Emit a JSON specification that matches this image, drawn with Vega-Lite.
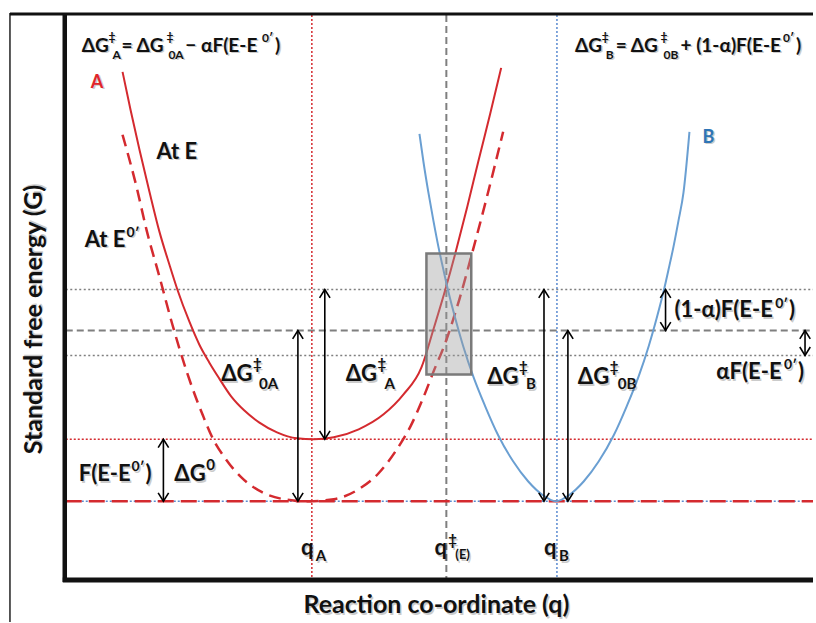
{
  "$schema": "https://vega.github.io/schema/vega-lite/v6.json",
  "width": 816,
  "height": 623,
  "autosize": {"type": "fit", "contains": "padding"},
  "padding": 0,
  "background": "white",
  "config": {"view": {"stroke": null}},
  "datasets": {
    "frame": [
      {"part": "outer", "q": 10, "q2": 10, "g": 489, "g2": -121},
      {"part": "top", "q": 10, "q2": 816, "g": 488, "g2": 488},
      {"part": "left", "q": 65, "q2": 65, "g": 489, "g2": -81},
      {"part": "bottom", "q": 63, "q2": 816, "g": -79, "g2": -79}
    ],
    "guides": [
      {"style": "grayDot", "q": 66, "q2": 816, "g": 212, "g2": 212},
      {"style": "grayDot", "q": 66, "q2": 816, "g": 146, "g2": 146},
      {"style": "grayDash", "q": 66, "q2": 816, "g": 171, "g2": 171},
      {"style": "redDot", "q": 66, "q2": 816, "g": 62, "g2": 62},
      {"style": "blueDot", "q": 66, "q2": 816, "g": 0, "g2": 0},
      {"style": "redDash", "q": 66, "q2": 816, "g": 0, "g2": 0},
      {"style": "redDot", "q": 313, "q2": 313, "g": 487, "g2": -77},
      {"style": "grayDash", "q": 448, "q2": 448, "g": 487, "g2": -77},
      {"style": "blueDot", "q": 559, "q2": 559, "g": 487, "g2": -77}
    ],
    "curves": [
      {"curve": "A at E", "q": 123, "g": 430}, {"curve": "A at E", "q": 131, "g": 392},
      {"curve": "A at E", "q": 140, "g": 352}, {"curve": "A at E", "q": 150, "g": 310},
      {"curve": "A at E", "q": 160, "g": 270}, {"curve": "A at E", "q": 170, "g": 237},
      {"curve": "A at E", "q": 178, "g": 212}, {"curve": "A at E", "q": 190, "g": 180},
      {"curve": "A at E", "q": 200, "g": 157}, {"curve": "A at E", "q": 210, "g": 139},
      {"curve": "A at E", "q": 220, "g": 123}, {"curve": "A at E", "q": 232, "g": 105},
      {"curve": "A at E", "q": 245, "g": 91}, {"curve": "A at E", "q": 260, "g": 79},
      {"curve": "A at E", "q": 278, "g": 69}, {"curve": "A at E", "q": 298, "g": 63},
      {"curve": "A at E", "q": 315, "g": 62}, {"curve": "A at E", "q": 335, "g": 64},
      {"curve": "A at E", "q": 360, "g": 72}, {"curve": "A at E", "q": 385, "g": 87},
      {"curve": "A at E", "q": 405, "g": 107}, {"curve": "A at E", "q": 423, "g": 134},
      {"curve": "A at E", "q": 435, "g": 172}, {"curve": "A at E", "q": 447, "g": 212},
      {"curve": "A at E", "q": 458, "g": 252}, {"curve": "A at E", "q": 469, "g": 295},
      {"curve": "A at E", "q": 480, "g": 340}, {"curve": "A at E", "q": 492, "g": 388},
      {"curve": "A at E", "q": 503, "g": 434},
      {"curve": "A at E0", "q": 123, "g": 367}, {"curve": "A at E0", "q": 137, "g": 315},
      {"curve": "A at E0", "q": 147, "g": 272}, {"curve": "A at E0", "q": 160, "g": 225},
      {"curve": "A at E0", "q": 173, "g": 177}, {"curve": "A at E0", "q": 188, "g": 128},
      {"curve": "A at E0", "q": 204, "g": 85}, {"curve": "A at E0", "q": 214, "g": 62},
      {"curve": "A at E0", "q": 226, "g": 43}, {"curve": "A at E0", "q": 242, "g": 24},
      {"curve": "A at E0", "q": 263, "g": 9}, {"curve": "A at E0", "q": 285, "g": 2},
      {"curve": "A at E0", "q": 310, "g": 0}, {"curve": "A at E0", "q": 335, "g": 2},
      {"curve": "A at E0", "q": 360, "g": 12}, {"curve": "A at E0", "q": 380, "g": 28},
      {"curve": "A at E0", "q": 397, "g": 50}, {"curve": "A at E0", "q": 412, "g": 75},
      {"curve": "A at E0", "q": 425, "g": 104}, {"curve": "A at E0", "q": 436, "g": 132},
      {"curve": "A at E0", "q": 446, "g": 156}, {"curve": "A at E0", "q": 461, "g": 202},
      {"curve": "A at E0", "q": 474, "g": 249}, {"curve": "A at E0", "q": 488, "g": 302},
      {"curve": "A at E0", "q": 505, "g": 370},
      {"curve": "B", "q": 421, "g": 368}, {"curve": "B", "q": 425, "g": 340},
      {"curve": "B", "q": 430, "g": 309}, {"curve": "B", "q": 435, "g": 281},
      {"curve": "B", "q": 440, "g": 255}, {"curve": "B", "q": 445, "g": 232},
      {"curve": "B", "q": 450, "g": 210}, {"curve": "B", "q": 457, "g": 183},
      {"curve": "B", "q": 465, "g": 155}, {"curve": "B", "q": 475, "g": 125},
      {"curve": "B", "q": 487, "g": 95}, {"curve": "B", "q": 500, "g": 66},
      {"curve": "B", "q": 515, "g": 40}, {"curve": "B", "q": 530, "g": 20},
      {"curve": "B", "q": 545, "g": 6}, {"curve": "B", "q": 558, "g": 0},
      {"curve": "B", "q": 571, "g": 6}, {"curve": "B", "q": 586, "g": 20},
      {"curve": "B", "q": 601, "g": 40}, {"curve": "B", "q": 616, "g": 66},
      {"curve": "B", "q": 629, "g": 95}, {"curve": "B", "q": 641, "g": 125},
      {"curve": "B", "q": 651, "g": 155}, {"curve": "B", "q": 659, "g": 183},
      {"curve": "B", "q": 666, "g": 210}, {"curve": "B", "q": 671, "g": 232},
      {"curve": "B", "q": 676, "g": 255}, {"curve": "B", "q": 681, "g": 281},
      {"curve": "B", "q": 686, "g": 309}, {"curve": "B", "q": 692, "g": 370}
    ],
    "arrows": [
      {"name": "F(E-E0')", "q": 164, "g": 0, "g2": 62},
      {"name": "dG0A", "q": 299, "g": 0, "g2": 171},
      {"name": "dGA", "q": 326, "g": 62, "g2": 212},
      {"name": "dGB", "q": 546, "g": 0, "g2": 212},
      {"name": "dG0B", "q": 570, "g": 0, "g2": 171},
      {"name": "(1-a)F", "q": 668, "g": 171, "g2": 212},
      {"name": "aF", "q": 808, "g": 146, "g2": 171}
    ],
    "box": [{"q": 428, "q2": 473, "g": 248, "g2": 127}],
    "texts": [
      {"t": "ΔG", "q": 82, "g": 450, "role": "eq"},
      {"t": "‡", "q": 109, "g": 461, "role": "eqS"},
      {"t": "A", "q": 113, "g": 443, "role": "eqS"},
      {"t": "= ΔG", "q": 122, "g": 450, "role": "eq"},
      {"t": "‡", "q": 167, "g": 461, "role": "eqS"},
      {"t": "0A", "q": 169, "g": 443, "role": "eqS"},
      {"t": "− αF(E-E", "q": 186, "g": 450, "role": "eq"},
      {"t": "0′", "q": 263, "g": 460, "role": "eqS"},
      {"t": ")", "q": 276, "g": 450, "role": "eq"},
      {"t": "ΔG", "q": 577, "g": 450, "role": "eq"},
      {"t": "‡", "q": 604, "g": 461, "role": "eqS"},
      {"t": "B", "q": 608, "g": 443, "role": "eqS"},
      {"t": "= ΔG", "q": 618, "g": 450, "role": "eq"},
      {"t": "‡", "q": 663, "g": 461, "role": "eqS"},
      {"t": "0B", "q": 666, "g": 443, "role": "eqS"},
      {"t": "+ (1-α)F(E-E", "q": 683, "g": 450, "role": "eq"},
      {"t": "0′", "q": 786, "g": 460, "role": "eqS"},
      {"t": ")", "q": 799, "g": 450, "role": "eq"},
      {"t": "ΔG", "q": 222, "g": 120, "role": "lbl"},
      {"t": "‡", "q": 254, "g": 132, "role": "lblS"},
      {"t": "0A", "q": 260, "g": 112, "role": "lblS"},
      {"t": "ΔG", "q": 347, "g": 120, "role": "lbl"},
      {"t": "‡", "q": 379, "g": 132, "role": "lblS"},
      {"t": "A", "q": 386, "g": 112, "role": "lblS"},
      {"t": "ΔG", "q": 489, "g": 117, "role": "lbl"},
      {"t": "‡", "q": 521, "g": 129, "role": "lblS"},
      {"t": "B", "q": 528, "g": 112, "role": "lblS"},
      {"t": "ΔG", "q": 580, "g": 117, "role": "lbl"},
      {"t": "‡", "q": 612, "g": 129, "role": "lblS"},
      {"t": "0B", "q": 620, "g": 112, "role": "lblS"},
      {"t": "ΔG", "q": 175, "g": 20, "role": "lbl"},
      {"t": "0", "q": 207, "g": 31, "role": "lblS"},
      {"t": "q", "q": 302, "g": -54, "role": "lbl"},
      {"t": "A", "q": 317, "g": -60, "role": "lblS"},
      {"t": "q", "q": 436, "g": -54, "role": "lbl"},
      {"t": "‡", "q": 450, "g": -44, "role": "lblS"},
      {"t": "(E)", "q": 457, "g": -58, "role": "tiny"},
      {"t": "q", "q": 546, "g": -54, "role": "lbl"},
      {"t": "B", "q": 561, "g": -60, "role": "lblS"},
      {"t": "F(E-E", "q": 79, "g": 20, "role": "mid"},
      {"t": "0′", "q": 132, "g": 30, "role": "midS"},
      {"t": ")", "q": 146, "g": 20, "role": "mid"},
      {"t": "(1-α)F(E-E", "q": 677, "g": 184, "role": "mid"},
      {"t": "0′", "q": 778, "g": 194, "role": "midS"},
      {"t": ")", "q": 792, "g": 184, "role": "mid"},
      {"t": "αF(E-E", "q": 719, "g": 122, "role": "mid"},
      {"t": "0′", "q": 787, "g": 132, "role": "midS"},
      {"t": ")", "q": 801, "g": 122, "role": "mid"},
      {"t": "At E", "q": 157, "g": 343, "role": "mid"},
      {"t": "At E", "q": 85, "g": 255, "role": "mid"},
      {"t": "0′", "q": 127, "g": 265, "role": "midS"}
    ],
    "names": [
      {"t": "A", "q": 91, "g": 414},
      {"t": "B", "q": 705, "g": 359}
    ],
    "xtitle": [{"t": "Reaction co-ordinate (q)", "q": 438, "g": -112}],
    "ytitle": [{"t": "Standard free energy (G)", "q": 34, "g": 182}]
  },
  "encoding": {
    "x": {"field": "q", "type": "quantitative", "scale": {"domain": [0, 816], "nice": false, "zero": false}, "axis": null},
    "y": {"field": "g", "type": "quantitative", "scale": {"domain": [-121, 502], "nice": false, "zero": false}, "axis": null}
  },
  "layer": [
    {
      "data": {"name": "guides"},
      "transform": [{"filter": "datum.style == 'grayDot'"}],
      "mark": {"type": "rule", "color": "#7f7f7f", "strokeWidth": 1.5, "strokeDash": [2, 2.5]},
      "encoding": {"x2": {"field": "q2"}, "y2": {"field": "g2"}}
    },
    {
      "data": {"name": "guides"},
      "transform": [{"filter": "datum.style == 'grayDash'"}],
      "mark": {"type": "rule", "color": "#7f7f7f", "strokeWidth": 2, "strokeDash": [7, 4]},
      "encoding": {"x2": {"field": "q2"}, "y2": {"field": "g2"}}
    },
    {
      "data": {"name": "guides"},
      "transform": [{"filter": "datum.style == 'redDot'"}],
      "mark": {"type": "rule", "color": "#d42a2f", "strokeWidth": 1.5, "strokeDash": [2, 2]},
      "encoding": {"x2": {"field": "q2"}, "y2": {"field": "g2"}}
    },
    {
      "data": {"name": "guides"},
      "transform": [{"filter": "datum.style == 'blueDot'"}],
      "mark": {"type": "rule", "color": "#5b8bd0", "strokeWidth": 1.5, "strokeDash": [2, 2]},
      "encoding": {"x2": {"field": "q2"}, "y2": {"field": "g2"}}
    },
    {
      "data": {"name": "guides"},
      "transform": [{"filter": "datum.style == 'redDash'"}],
      "mark": {"type": "rule", "color": "#d42a2f", "strokeWidth": 2.5, "strokeDash": [16, 7]},
      "encoding": {"x2": {"field": "q2"}, "y2": {"field": "g2"}}
    },
    {
      "data": {"name": "curves"},
      "transform": [{"filter": "datum.curve == 'A at E'"}],
      "mark": {"type": "line", "interpolate": "monotone", "strokeWidth": 2, "color": "#d42a2f"}
    },
    {
      "data": {"name": "curves"},
      "transform": [{"filter": "datum.curve == 'A at E0'"}],
      "mark": {"type": "line", "interpolate": "monotone", "strokeWidth": 2.5, "color": "#d42a2f", "strokeDash": [12, 7]}
    },
    {
      "data": {"name": "curves"},
      "transform": [{"filter": "datum.curve == 'B'"}],
      "mark": {"type": "line", "interpolate": "monotone", "strokeWidth": 2, "color": "#6a9fd2"}
    },
    {
      "data": {"name": "box"},
      "mark": {"type": "rect", "fill": "#9a9a9a", "fillOpacity": 0.4, "stroke": "#7a7a7a", "strokeWidth": 2.5},
      "encoding": {"x2": {"field": "q2"}, "y2": {"field": "g2"}}
    },
    {
      "data": {"name": "arrows"},
      "mark": {"type": "rule", "color": "black", "strokeWidth": 1.6},
      "encoding": {"y2": {"field": "g2"}}
    },
    {
      "data": {"name": "arrows"},
      "mark": {"type": "point", "shape": "M-1,1.6L0,0L1,1.6", "size": 110, "filled": false, "stroke": "black", "strokeWidth": 1.6, "opacity": 1},
      "encoding": {"y": {"field": "g2", "type": "quantitative"}}
    },
    {
      "data": {"name": "arrows"},
      "mark": {"type": "point", "shape": "M-1,-1.6L0,0L1,-1.6", "size": 110, "filled": false, "stroke": "black", "strokeWidth": 1.6, "opacity": 1}
    },
    {
      "data": {"name": "frame"},
      "transform": [{"filter": "datum.part == 'outer'"}],
      "mark": {"type": "rule", "color": "#222222", "strokeWidth": 1.5},
      "encoding": {"x2": {"field": "q2"}, "y2": {"field": "g2"}}
    },
    {
      "data": {"name": "frame"},
      "transform": [{"filter": "datum.part == 'top'"}],
      "mark": {"type": "rule", "color": "#111111", "strokeWidth": 3},
      "encoding": {"x2": {"field": "q2"}, "y2": {"field": "g2"}}
    },
    {
      "data": {"name": "frame"},
      "transform": [{"filter": "datum.part == 'left'"}],
      "mark": {"type": "rule", "color": "#111111", "strokeWidth": 4.5},
      "encoding": {"x2": {"field": "q2"}, "y2": {"field": "g2"}}
    },
    {
      "data": {"name": "frame"},
      "transform": [{"filter": "datum.part == 'bottom'"}],
      "mark": {"type": "rule", "color": "#111111", "strokeWidth": 5},
      "encoding": {"x2": {"field": "q2"}, "y2": {"field": "g2"}}
    },
    {
      "data": {"name": "texts"},
      "mark": {"type": "text", "align": "left", "baseline": "alphabetic", "font": "Lato", "fontWeight": "bold", "color": "#000000", "opacity": 0.2, "dx": 1.5, "dy": 1.5},
      "encoding": {
        "text": {"field": "t"},
        "size": {"field": "role", "type": "nominal", "scale": {"type": "ordinal", "domain": ["eq", "eqS", "lbl", "lblS", "mid", "midS", "tiny"], "range": [19, 12, 22, 15, 22, 14, 13]}, "legend": null}
      }
    },
    {
      "data": {"name": "texts"},
      "mark": {"type": "text", "align": "left", "baseline": "alphabetic", "font": "Lato", "fontWeight": "bold", "color": "#111111"},
      "encoding": {
        "text": {"field": "t"},
        "size": {"field": "role", "type": "nominal", "scale": {"type": "ordinal", "domain": ["eq", "eqS", "lbl", "lblS", "mid", "midS", "tiny"], "range": [19, 12, 22, 15, 22, 14, 13]}, "legend": null}
      }
    },
    {
      "data": {"name": "names"},
      "mark": {"type": "text", "align": "left", "baseline": "alphabetic", "font": "Lato", "fontWeight": "bold", "fontSize": 18, "color": "#000000", "opacity": 0.2, "dx": 1.5, "dy": 1.5},
      "encoding": {"text": {"field": "t"}}
    },
    {
      "data": {"name": "names"},
      "mark": {"type": "text", "align": "left", "baseline": "alphabetic", "font": "Lato", "fontWeight": "bold", "fontSize": 18},
      "encoding": {
        "text": {"field": "t"},
        "color": {"field": "t", "type": "nominal", "scale": {"domain": ["A", "B"], "range": ["#e0252b", "#2e75b6"]}, "legend": null}
      }
    },
    {
      "data": {"name": "xtitle"},
      "mark": {"type": "text", "align": "center", "baseline": "alphabetic", "font": "Lato", "fontWeight": "bold", "fontSize": 25, "color": "#000000", "opacity": 0.2, "dx": 1.5, "dy": 1.5},
      "encoding": {"text": {"field": "t"}}
    },
    {
      "data": {"name": "xtitle"},
      "mark": {"type": "text", "align": "center", "baseline": "alphabetic", "font": "Lato", "fontWeight": "bold", "fontSize": 25, "color": "#111111"},
      "encoding": {"text": {"field": "t"}}
    },
    {
      "data": {"name": "ytitle"},
      "mark": {"type": "text", "align": "center", "baseline": "middle", "angle": 270, "font": "Lato", "fontWeight": "bold", "fontSize": 25, "color": "#000000", "opacity": 0.2, "dx": 1.5, "dy": 1.5},
      "encoding": {"text": {"field": "t"}}
    },
    {
      "data": {"name": "ytitle"},
      "mark": {"type": "text", "align": "center", "baseline": "middle", "angle": 270, "font": "Lato", "fontWeight": "bold", "fontSize": 25, "color": "#111111"},
      "encoding": {"text": {"field": "t"}}
    }
  ]
}
